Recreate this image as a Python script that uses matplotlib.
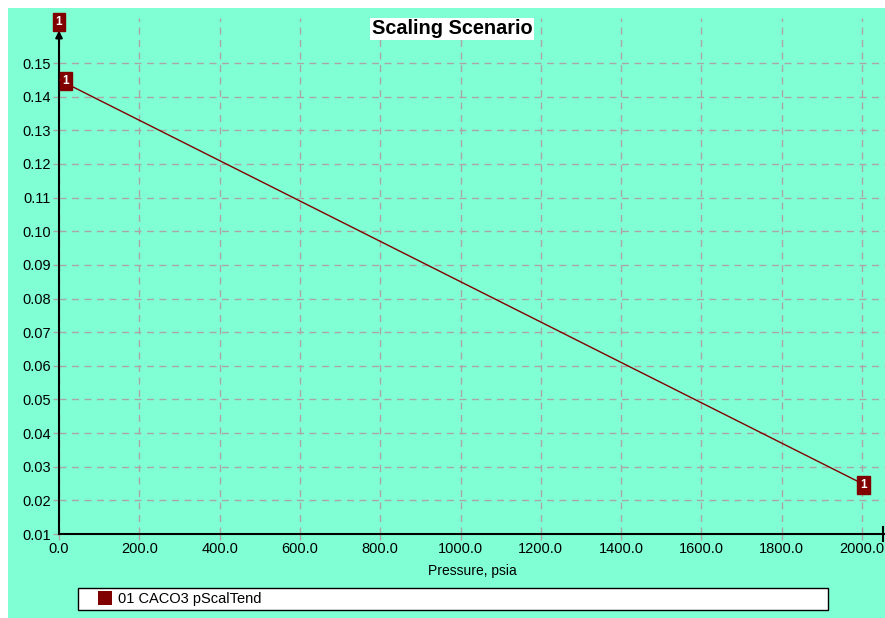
import matplotlib
matplotlib.use("Agg")
import matplotlib.pyplot as plt
from matplotlib.patches import Rectangle

# Data
pressure = [0.0, 2000.0]
scal_tend = [0.145, 0.025]
point_labels = ["1", "1"]
series_name = "01 CACO3 pScalTend"
title = "Scaling Scenario"
xlabel = "Pressure, psia"
xticks = [0, 200, 400, 600, 800, 1000, 1200, 1400, 1600, 1800, 2000]
yticks = [0.01, 0.02, 0.03, 0.04, 0.05, 0.06, 0.07, 0.08, 0.09, 0.10,
          0.11, 0.12, 0.13, 0.14, 0.15]

W, H = 885, 618
bg = "#80FFD4"
red = "#800000"
plt.rcParams["font.family"] = ["Liberation Sans", "DejaVu Sans"]
fig = plt.figure(figsize=(W / 100, H / 100), dpi=100, facecolor="white")

def fx(px):
    return px / W

def fy(py):
    return 1 - py / H

# green background panel
fig.patches.append(Rectangle((fx(8), 0), 1 - fx(8), fy(8), transform=fig.transFigure,
                             facecolor=bg, edgecolor="none", zorder=-5))

left, right, top, bottom = 59, 885, 18, 534
ax = fig.add_axes([fx(left), fy(bottom), fx(right - left), fy(top) - fy(bottom)])
ax.set_zorder(3)
ax.set_facecolor("none")
ax.set_xlim(0, 2057)
ax.set_ylim(0.01, 0.1634)

ax.set_xticks(xticks)
ax.set_xticklabels([f"{v:.1f}" for v in xticks])
ax.set_yticks(yticks)
ax.set_yticklabels([f"{v:.2f}" for v in yticks])
ax.tick_params(axis="both", labelsize=10.5, labelcolor="black", length=4, width=1, pad=2,
               color="#ABA5A5")

ax.grid(True, color="#ABA5A5", linestyle=(0, (5, 4)), linewidth=1)
for s in ["top", "right"]:
    ax.spines[s].set_visible(False)
ax.spines["left"].set_bounds(0.01, 0.1585)
ax.spines["left"].set_linewidth(1.5)
ax.spines["bottom"].set_linewidth(1.5)

# arrow at top of y axis
ax.annotate("", xy=(0, 0.1605), xytext=(0, 0.156), xycoords="data",
            arrowprops=dict(arrowstyle="-|>", color="black", lw=1.5, mutation_scale=10),
            annotation_clip=False)
# end bar on x axis
ax.plot([2052, 2052], [0.008, 0.012], color="black", lw=1.5, clip_on=False)

# series
ax.plot(pressure, scal_tend, color=red, lw=1, zorder=3)
offsets = [(5, -1), (1, -1)]
for x, y, lab, (dx, dy) in zip(pressure, scal_tend, point_labels, offsets):
    ax.annotate(lab, xy=(x, y), xytext=(dx, dy), textcoords="offset points",
                ha="center", va="center", fontsize=8.5, fontweight="bold", color="white",
                bbox=dict(boxstyle="square,pad=0.25", facecolor=red, edgecolor=red),
                annotation_clip=False, zorder=5)

# label box above y axis
fig.text(fx(59), fy(22), "1", ha="center", va="center", fontsize=8.5, fontweight="bold",
         color="white", bbox=dict(boxstyle="square,pad=0.25", facecolor=red, edgecolor=red))

# title
fig.text(fx(452), fy(29), title, ha="center", va="center", fontsize=14.3, fontweight="bold",
         color="black", bbox=dict(boxstyle="square,pad=0.1", facecolor="white", edgecolor="none"))

# x label
fig.text(fx(472), fy(571), xlabel, ha="center", va="center", fontsize=10, color="black")

# legend box
fig.patches.append(Rectangle((fx(78), fy(610)), fx(828 - 78), fy(588) - fy(610),
                             transform=fig.transFigure, facecolor="white",
                             edgecolor="black", lw=1, zorder=1))
fig.patches.append(Rectangle((fx(98), fy(605)), fx(14), fy(591) - fy(605),
                             transform=fig.transFigure, facecolor=red,
                             edgecolor="none", zorder=2))
fig.text(fx(118), fy(598.5), series_name, ha="left", va="center", fontsize=10.5, color="black")

fig.savefig("out.png", dpi=100, facecolor="white")
